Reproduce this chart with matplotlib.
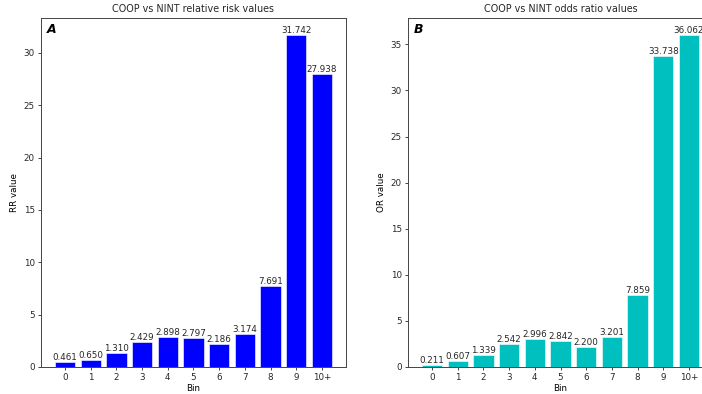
import matplotlib
matplotlib.use("Agg")
import matplotlib.pyplot as plt

bins = ["0", "1", "2", "3", "4", "5", "6", "7", "8", "9", "10+"]
rr_values = [0.461, 0.650, 1.310, 2.429, 2.898, 2.797, 2.186, 3.174, 7.691, 31.742, 27.938]
or_values = [0.211, 0.607, 1.339, 2.542, 2.996, 2.842, 2.200, 3.201, 7.859, 33.738, 36.062]

plt.rcParams["font.size"] = 6.3
plt.rcParams["text.color"] = "#262626"
plt.rcParams["xtick.color"] = "#262626"
plt.rcParams["ytick.color"] = "#262626"

W, H = 702, 394
fig = plt.figure(figsize=(W / 100, H / 100), dpi=100)

# right panel runs past the edge of the image, as in the reference
ax_rr = fig.add_axes([41 / W, (H - 367) / H, 305 / W, 349 / H])
ax_or = fig.add_axes([408 / W, (H - 367) / H, 305 / W, 349 / H])

panels = [
    (ax_rr, rr_values, "b", "RR value", "COOP vs NINT relative risk values", "A"),
    (ax_or, or_values, "c", "OR value", "COOP vs NINT odds ratio values", "B"),
]

for ax, vals, color, ylab, title, tag in panels:
    x = range(len(bins))
    bars = ax.bar(x, vals, color=color, edgecolor="white", linewidth=0.4)
    for b, v in zip(bars, vals):
        ax.text(b.get_x() + b.get_width() / 2, v, f"{v:.3f}",
                ha="center", va="bottom", fontsize=6.3)
    ax.set_xticks(list(x))
    ax.set_xticklabels(bins)
    ax.set_xlabel("Bin", labelpad=1)
    ax.set_ylabel(ylab, labelpad=3)
    ax.set_title(title, fontsize=6.9, pad=4)
    ax.text(0.02, 0.985, tag, transform=ax.transAxes, ha="left", va="top",
            fontsize=9, fontweight="bold", fontstyle="italic", color="black")
    ax.tick_params(length=2.5, width=0.6, pad=2)
    for s in ax.spines.values():
        s.set_linewidth(0.7)
        s.set_color("#444444")

fig.savefig("out.png", dpi=100)
